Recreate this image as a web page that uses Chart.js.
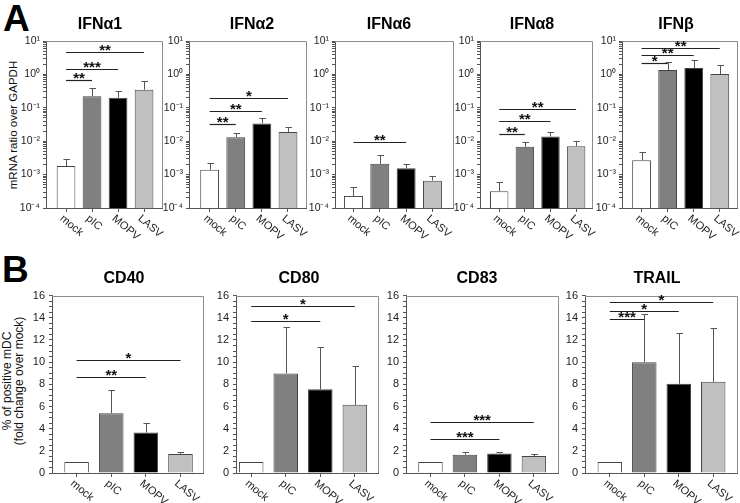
<!DOCTYPE html>
<html><head><meta charset="utf-8">
<script src="https://cdn.jsdelivr.net/npm/chart.js@4.4.1/dist/chart.umd.min.js"></script>
<style>
html,body{margin:0;padding:0;background:#fff;}
body{width:740px;height:503px;position:relative;overflow:hidden;font-family:"Liberation Sans",Arial,sans-serif;color:#000;}
canvas{position:absolute;}
.t{position:absolute;font-weight:bold;font-size:16px;line-height:16px;transform:translateX(-50%);white-space:nowrap;}
.lab{position:absolute;font-weight:bold;font-size:37px;line-height:37px;}
.yt{position:absolute;white-space:nowrap;text-align:center;transform:translate(-50%,-50%) rotate(-90deg);color:#111;}
</style></head><body>
<div class="lab" style="left:3px;top:0px;">A</div>
<div class="lab" style="left:2px;top:251px;">B</div>
<div class="yt" style="left:13px;top:125px;font-size:11.5px;line-height:12px;">mRNA ratio over GAPDH</div>
<div class="yt" style="left:13px;top:381px;font-size:12px;line-height:11.5px;">% of positive mDC<br>(fold change over mock)</div>
<script>
// ---------- data ----------
const categories = ['mock', 'pIC', 'MOPV', 'LASV'];
const titles = ['IFNα1', 'IFNα2', 'IFNα6', 'IFNα8', 'IFNβ', 'CD40', 'CD80', 'CD83', 'TRAIL'];
const logTickLabels = ['10⁻⁴', '10⁻³', '10⁻²', '10⁻¹', '10⁰', '10¹'];
const linTickLabels = ['0', '2', '4', '6', '8', '10', '12', '14', '16'];

// Panel A: mRNA ratio over GAPDH (mean, SD)
const ifna1Mean = [1.8e-3, 0.22, 0.20, 0.35];
const ifna1Sd   = [1.2e-3, 0.17, 0.12, 0.29];
const ifna2Mean = [1.4e-3, 0.0132, 0.034, 0.019];
const ifna2Sd   = [0.8e-3, 0.0043, 0.016, 0.008];
const ifna6Mean = [2.3e-4, 2.1e-3, 1.55e-3, 6.6e-4];
const ifna6Sd   = [2.0e-4, 1.8e-3, 0.55e-3, 2.6e-4];
const ifna8Mean = [3.2e-4, 6.8e-3, 0.0138, 7.1e-3];
const ifna8Sd   = [3.0e-4, 2.7e-3, 5.7e-3, 3.1e-3];
const ifnbMean  = [2.7e-3, 1.35, 1.55, 1.02];
const ifnbSd    = [1.9e-3, 0.95, 1.15, 0.88];

// Panel B: % of positive mDC (fold change over mock)
const cd40Mean  = [1, 5.4, 3.65, 1.72];
const cd40Sd    = [0, 2.1, 0.85, 0.2];
const cd80Mean  = [1, 8.98, 7.55, 6.15];
const cd80Sd    = [0, 4.2, 3.85, 3.5];
const cd83Mean  = [1, 1.65, 1.77, 1.53];
const cd83Sd    = [0, 0.25, 0.1, 0.2];
const trailMean = [1, 10.0, 8.05, 8.22];
const trailSd   = [0, 4.37, 4.55, 4.85];

// significance brackets: [target category index, level (data units), label]
const ifna1Sig = [[3, 4.7, '**'], [2, 1.5, '***'], [1, 0.67, '**']];
const ifna2Sig = [[1, 0.032, '**'], [2, 0.079, '**'], [3, 0.19, '*']];
const ifna6Sig = [[2, 9.3e-3, '**']];
const ifna8Sig = [[1, 0.017, '**'], [2, 0.04, '**'], [3, 0.095, '**']];
const ifnbSig  = [[1, 2.2, '*'], [2, 3.7, '**'], [3, 6.2, '**']];
const cd40Sig  = [[2, 8.7, '**'], [3, 10.2, '*']];
const cd80Sig  = [[2, 13.75, '*'], [3, 15.1, '*']];
const cd83Sig  = [[2, 3.05, '***'], [3, 4.62, '***']];
const trailSig = [[1, 13.9, '***'], [2, 14.65, '*'], [3, 15.4, '*']];

// ---------- styles / layout ----------
const barFill = ['#ffffff', '#808080', '#000000', '#c0c0c0'];
const FONT = '"Liberation Sans", Arial, sans-serif';
Chart.defaults.font.family = FONT;

const panels = [
  {mean: ifna1Mean, sd: ifna1Sd, sig: ifna1Sig, log: true, box: [46, 41, 162, 208], xr: [-0.77, 3.69], tx: 100},
  {mean: ifna2Mean, sd: ifna2Sd, sig: ifna2Sig, log: true, box: [189, 41, 306, 208], xr: [-0.79, 3.69], tx: 252},
  {mean: ifna6Mean, sd: ifna6Sd, sig: ifna6Sig, log: true, box: [335, 41, 453, 208], xr: [-0.70, 3.78], tx: 389},
  {mean: ifna8Mean, sd: ifna8Sd, sig: ifna8Sig, log: true, box: [480, 41, 592, 208], xr: [-0.75, 3.62], tx: 532},
  {mean: ifnbMean,  sd: ifnbSd,  sig: ifnbSig,  log: true, box: [622, 41, 737, 208], xr: [-0.75, 3.66], tx: 676},
  {mean: cd40Mean,  sd: cd40Sd,  sig: cd40Sig,  log: false, box: [52, 295, 203, 473], xr: [-0.71, 3.65], tx: 124},
  {mean: cd80Mean,  sd: cd80Sd,  sig: cd80Sig,  log: false, box: [236, 295, 378, 473], xr: [-0.44, 3.67], tx: 299},
  {mean: cd83Mean,  sd: cd83Sd,  sig: cd83Sig,  log: false, box: [406, 295, 558, 473], xr: [-0.71, 3.70], tx: 477},
  {mean: trailMean, sd: trailSd, sig: trailSig, log: false, box: [585, 295, 737, 473], xr: [-0.72, 3.69], tx: 657}
];

// axis tick positions
const logTickValues = [];
for (let e = -4; e <= 0; e++) for (let m = 1; m <= 9; m++) logTickValues.push(m * Math.pow(10, e));
logTickValues.push(10);
const linTickValues = [];
for (let v = 0; v <= 16; v += 0.5) linTickValues.push(v);

function makeOverlay(p) {
  return {
    id: 'overlay',
    afterDatasetsDraw(chart) {
      const {ctx, chartArea: a, scales: {y}} = chart;
      const meta = chart.getDatasetMeta(0);
      ctx.save();
      // frame (top / right)
      ctx.strokeStyle = '#8c8c8c'; ctx.lineWidth = 1;
      ctx.beginPath();
      ctx.moveTo(a.left, Math.round(a.top) + 0.5);
      ctx.lineTo(Math.round(a.right) + 0.5, Math.round(a.top) + 0.5);
      ctx.lineTo(Math.round(a.right) + 0.5, a.bottom);
      ctx.stroke();
      // error bars
      ctx.strokeStyle = '#555'; ctx.lineWidth = 1;
      p.mean.forEach((m, i) => {
        if (!p.sd[i]) return;
        const bx = Math.round(meta.data[i].x) + 0.5;
        const y0 = y.getPixelForValue(m), y1 = Math.round(y.getPixelForValue(m + p.sd[i])) + 0.5;
        ctx.beginPath();
        ctx.moveTo(bx, y0); ctx.lineTo(bx, y1);
        ctx.moveTo(bx - 3, y1); ctx.lineTo(bx + 3.5, y1);
        ctx.stroke();
      });
      // significance brackets
      ctx.strokeStyle = '#222'; ctx.fillStyle = '#111'; ctx.lineWidth = 1.2;
      ctx.font = 'bold 15px ' + FONT; ctx.textAlign = 'center'; ctx.textBaseline = 'alphabetic';
      p.sig.forEach(([to, v, s]) => {
        const x0 = meta.data[0].x, x1 = meta.data[to].x;
        const yy = Math.round(y.getPixelForValue(v)) + 0.5;
        ctx.beginPath(); ctx.moveTo(x0, yy); ctx.lineTo(x1, yy); ctx.stroke();
        ctx.fillText(s, (x0 + x1) / 2, yy + 2.5);
      });
      ctx.restore();
    },
    afterDraw(chart) {
      const {ctx, chartArea: a, scales: {x}} = chart;
      ctx.save();
      ctx.font = '11px ' + FONT; ctx.fillStyle = '#222';
      ctx.textAlign = 'left'; ctx.textBaseline = 'top';
      categories.forEach((c, i) => {
        const px = x.getPixelForValue(i);
        ctx.save();
        ctx.translate(px - 1, a.bottom + 5);
        ctx.rotate(40 * Math.PI / 180);
        ctx.fillText(c, 0, 0);
        ctx.restore();
      });
      ctx.restore();
    }
  };
}

function makeChart(p, idx) {
  const [L, T, R, B] = p.box;
  const yw = p.log ? 30 : 28, pt = 10, pr = 18, xh = 40;
  const cv = document.createElement('canvas');
  cv.width = R - L + yw + pr; cv.height = B - T + pt + xh;
  cv.style.left = (L - yw) + 'px'; cv.style.top = (T - pt) + 'px';
  document.body.appendChild(cv);

  const t = document.createElement('div');
  t.className = 't'; t.textContent = titles[idx];
  t.style.left = p.tx + 'px'; t.style.top = (p.log ? 16 : 270) + 'px';
  document.body.appendChild(t);

  const yScale = p.log ? {
    type: 'logarithmic', min: 1e-4, max: 10,
    afterBuildTicks: s => { s.ticks = logTickValues.map(v => ({value: v})); },
    ticks: {autoSkip: false, color: '#222', font: {size: 10.5}, padding: 3,
      callback: v => { const l = Math.log10(v), e = Math.round(l); return Math.abs(l - e) < 1e-6 ? logTickLabels[e + 4] : ''; }},
    grid: {drawOnChartArea: false, drawTicks: true, tickLength: 3, color: '#555'}
  } : {
    type: 'linear', min: 0, max: 16,
    afterBuildTicks: s => { s.ticks = linTickValues.map(v => ({value: v})); },
    ticks: {autoSkip: false, color: '#222', font: {size: 11}, padding: 4,
      callback: v => (v % 2 === 0 ? linTickLabels[v / 2] : '')},
    grid: {drawOnChartArea: false, drawTicks: true, tickLength: 3, color: '#555'}
  };
  yScale.afterFit = s => { s.width = yw; };
  yScale.border = {display: true, color: '#555', width: 1};

  new Chart(cv, {
    type: 'bar',
    data: {datasets: [{
      data: p.mean.map((v, i) => ({x: i, y: v})),
      backgroundColor: barFill, borderColor: '#444', borderWidth: 1,
      categoryPercentage: 1, barPercentage: p.log ? 0.72 : 0.71
    }]},
    options: {
      responsive: false, animation: false, devicePixelRatio: 1,
      layout: {padding: {top: pt, right: pr, left: 0, bottom: 0}},
      plugins: {legend: {display: false}, tooltip: {enabled: false}, title: {display: false}},
      scales: {
        x: {type: 'linear', bounds: 'data', min: p.xr[0], max: p.xr[1], offset: false,
          afterBuildTicks: s => { s.ticks = categories.map((_, i) => ({value: i})); },
          afterFit: s => { s.height = xh; },
          ticks: {display: false},
          grid: {offset: false, drawOnChartArea: false, drawTicks: true, tickLength: 4, color: '#555'},
          border: {display: true, color: '#555', width: 1}},
        y: yScale
      }
    },
    plugins: [makeOverlay(p)]
  });
}
panels.forEach(makeChart);
</script>
</body></html>
